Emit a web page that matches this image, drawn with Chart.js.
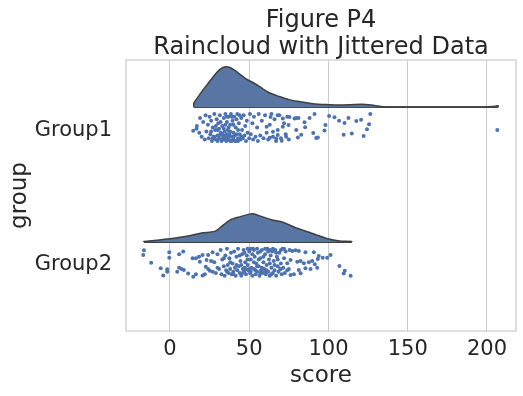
<!DOCTYPE html>
<html>
<head>
<meta charset="utf-8">
<script src="https://cdn.jsdelivr.net/npm/chart.js@4"></script>
<style>
  html, body { margin: 0; padding: 0; background: #fff; }
  #wrap { width: 523px; height: 396px; }
</style>
</head>
<body>
<div id="wrap"><canvas id="chart" width="523" height="396"></canvas></div>
<script>
const titleLines = ['Figure P4', 'Raincloud with Jittered Data'];
const groups = ['Group1', 'Group2'];
const xTicks = [0, 50, 100, 150, 200];
const cloudBase = 0.17; // clouds sit this far above the group line

// half-violin outlines: score, height above the baseline (y units)
const g1CloudScore = [15.1, 15.1, 18, 21, 25, 29, 32, 35, 37.5, 40, 43, 48, 52, 56.6, 62, 69, 75, 82, 88, 94, 100, 107, 114, 121, 127, 134, 145, 180, 200, 204, 207, 207];
const g1CloudHeight = [0, 0.03, 0.08, 0.13, 0.19, 0.25, 0.285, 0.30, 0.296, 0.28, 0.255, 0.21, 0.185, 0.153, 0.111, 0.079, 0.056, 0.041, 0.03, 0.022, 0.019, 0.017, 0.019, 0.022, 0.016, 0.004, 0.002, 0.002, 0.002, 0.006, 0.01, 0];
const g2CloudScore = [-16.4, -16.4, -8.4, 0, 10.5, 19.9, 28.3, 31.4, 37.7, 45, 50, 52.4, 55, 57.7, 64, 71.3, 79.7, 89, 99.6, 107, 114.7, 114.7];
const g2CloudHeight = [0, 0.004, 0.013, 0.024, 0.042, 0.067, 0.079, 0.104, 0.161, 0.19, 0.207, 0.21, 0.2, 0.19, 0.165, 0.146, 0.104, 0.067, 0.024, 0.007, 0.004, 0];

// rain: [score, jitter offset from the group line]
const g1Rain = [
  [14.7,0.005],[16.8,-0.01],[17,-0.03],[18.5,0.02],[19,-0.09],[20,0.05],[21,-0.06],[22,0.07],[22.5,-0.11],[23,0.01],
  [24,-0.04],[24.5,0.06],[25,-0.1],[25.5,0.03],[26,-0.07],[26.5,0.08],[27,-0.02],[27.5,0.05],[28,-0.12],[28.5,0.0],
  [29,0.07],[29.5,-0.08],[30,0.04],[30.5,-0.05],[31,0.06],[31.5,-0.11],[32,0.02],[32.5,0.08],[33,-0.03],[33.5,0.05],
  [34,-0.09],[34,0.07],[34.5,0.01],[35,-0.12],[35,0.04],[35.5,0.08],[36,-0.06],[36,0.06],[36.5,0.0],[37,-0.1],
  [37,0.07],[37.5,0.03],[38,-0.04],[38,0.08],[38.5,-0.12],[39,0.05],[39.5,-0.07],[40,0.02],[40,0.07],[40.5,-0.1],
  [41,0.04],[41.5,-0.02],[42,0.08],[42.5,-0.12],[43,0.06],[43.5,-0.05],[44,0.03],[44.5,0.07],[45,-0.09],[45.5,0.0],
  [46,0.06],[46.5,-0.11],[47,0.04],[47.5,-0.03],[48,0.08],[48.5,-0.07],[49,0.02],[50,0.06],[50.5,-0.12],[51,0.03],
  [52,-0.05],[52.5,0.07],[53,-0.1],[54,0.05],[55,-0.02],[55.5,0.08],[56,-0.12],[57,0.04],[58,-0.07],[59,0.06],
  [60,-0.11],[61,0.02],[62,0.07],[63,-0.04],[64,-0.12],[65,0.05],[66,-0.08],[67,0.08],[68,0.0],[69,-0.11],
  [70,0.06],[72,-0.05],[73,0.03],[74,-0.1],[75,0.07],
  [26,0.01],[28,0.05],[29,-0.03],[30,0.08],[31,-0.01],[32,-0.06],[33,0.03],[34,-0.01],[35,-0.04],[36,0.03],
  [37,-0.02],[38,0.01],[39,-0.1],[40,-0.04],[41,0.08],[42,-0.08],[43,0.0],[44,-0.11],[30,0.0],[33,0.07],
  [36,-0.1],[39,0.08],[42,0.03],[45,0.05],[27,0.06],[31,0.04],[34,0.05],[37,0.05],[40,0.05],[43,0.08],
  [61,-0.025],[63,0.057],[63.5,-0.098],[65,0.013],[67,0.062],[68,-0.111],[68,0.037],[70.5,0.079],[71.2,-0.086],[71.2,-0.025],
  [73.3,0.049],[74.8,-0.037],[75.4,-0.098],[78.6,-0.086],
  [79.7,-0.089],[81.1,-0.089],[84.9,-0.059],[88.1,-0.089],[91.2,-0.119],[85.3,-0.022],[98.1,-0.037],[100.4,-0.104],[103.8,-0.096],[106.7,-0.069],
  [110.1,-0.052],[112.6,-0.089],[117.6,-0.067],[120.6,-0.076],[126.4,-0.119],[125.6,-0.044],[124.3,-0.007],[122.2,0.044],[114.7,0.025],[109.6,0.035],
  [97.5,0.002],[90.4,0.022],[92.3,0.059],[93.3,0.054],[82.8,0.035],[80.7,0.054],[79.7,0.0],[206.5,0.0]
];
const g2Rain = [
  [-16.4,-0.109],[-16.8,-0.074],[-11.8,-0.017],[-5.8,0.024],[-4.2,0.079],[-1.7,0.032],[-1.7,0.05],[-0.4,-0.094],[-0.4,-0.054],[5.8,-0.079],
  [8.4,-0.099],[5.8,0.02],[7.4,0.03],[8.8,0.037],[4.6,0.05],[11.5,0.064],[14.7,0.087],[16.4,0.069],[14.3,-0.05],[16.4,-0.05],
  [18.4,-0.061],[20.6,-0.074],[18.9,-0.024],[23.1,-0.037],[24.1,-0.074],[26.9,-0.094],[22.6,0.013],[24.1,0.03],[25.2,0.044],[22,0.069],
  [20.6,0.079],
  [28,-0.02],[29,0.06],[30,-0.08],[31,0.03],[32,-0.11],[32.5,0.07],[33,-0.04],[34,0.01],[34.5,0.08],[35,-0.07],
  [35.5,0.04],[36,-0.12],[36.5,0.0],[37,0.06],[37.5,-0.05],[38,0.03],[38.5,-0.09],[39,0.07],[39.5,-0.01],[40,0.05],
  [40.5,-0.1],[41,0.02],[41.5,0.08],[42,-0.06],[42.5,0.04],[43,-0.12],[43.5,0.01],[44,0.06],[44.5,-0.03],[45,0.08],
  [45.5,-0.08],[46,0.03],[46.5,-0.11],[47,0.05],[47.5,-0.02],[48,0.07],[48.5,-0.07],[49,0.0],[49.5,0.04],[50,-0.1],
  [50.5,0.06],[51,-0.04],[51.5,0.02],[52,0.08],[52.5,-0.12],[53,0.03],[53.5,-0.06],[54,0.07],[54.5,-0.01],[55,0.05],
  [55.5,-0.09],[56,0.01],[56.5,0.08],[57,-0.05],[57.5,0.04],[58,-0.11],[58.5,0.06],[59,-0.02],[59.5,0.03],[60,-0.08],
  [60.5,0.07],[61,0.0],[61.5,-0.12],[62,0.05],[62.5,-0.04],[63,0.08],[63.5,-0.07],[64,0.02],[64.5,-0.1],[65,0.06],
  [65.5,-0.03],[66,0.04],[66.5,-0.11],[67,0.08],[67.5,-0.06],[68,0.01],[68.5,0.05],[69,-0.09],[69.5,0.03],[70,-0.01],
  [70.5,0.07],[71,-0.12],[71.5,0.02],[72,-0.05],[72.5,0.06],[73,-0.1],[74,0.04],[45,0.0],[47,0.02],[49,-0.04],
  [51,0.05],[53,-0.02],[55,0.01],[57,0.06],[59,-0.06],[61,0.04],[63,-0.01],[50,0.03],[52,-0.08],[54,0.04],
  [56,-0.04],[58,0.02],[60,0.05],[42,0.0],[44,-0.07],[46,0.06],[48,0.03],[64,0.07],[66,0.0],[68,-0.04],
  [70,0.03],[55,-0.12],[57,-0.1],[53,-0.11],[51,-0.12],[62,-0.1],[65,-0.12],[49,-0.12],[47,-0.09],[60,-0.12],
  [63,-0.11],[67,-0.09],[70,-0.11],[72,-0.12],[40,0.07],[38,-0.02],[36,0.05],[34,-0.05],[30,0.02],[27,0.05],
  [26,-0.03],
  [74,-0.013],[76.1,-0.037],[80.3,-0.024],[82.4,-0.03],[84.5,-0.013],[87.6,-0.02],[89.7,-0.03],[91.4,-0.005],[92.9,0.02],[88.7,0.03],
  [85.5,0.024],[81.3,0.037],[82.4,0.061],[78.2,0.069],[76.1,0.074],[75,0.03],
  [75.5,-0.111],[77.2,-0.104],[79.2,-0.109],[81.3,-0.104],[85.5,-0.094],[90.8,-0.094],[93.3,-0.044],[93.9,-0.067],[96.4,-0.054],[99.2,-0.054],
  [101.3,-0.074],[106.9,0.007],[110.3,0.044],[109.6,0.064],[114,0.081]
];

const textColor = '#262626';
const gridColor = '#cccccc';
const rainColor = '#4c72b0';
const cloudFill = 'rgb(88,117,164)';
const cloudEdge = '#3f3f3f';

Chart.defaults.font.family = '"DejaVu Sans", sans-serif';
Chart.defaults.color = textColor;

function cloudData(scores, heights, g) {
  return scores.map((x, i) => ({ x: x, y: g - cloudBase - heights[i] }));
}
function baseData(scores, g) {
  return [{ x: scores[0], y: g - cloudBase }, { x: scores[scores.length - 1], y: g - cloudBase }];
}
function rainData(pts, g) {
  return pts.map(p => ({ x: p[0], y: g + p[1] }));
}

const cloudStyle = {
  type: 'line', showLine: true, pointRadius: 0, borderColor: cloudEdge, borderWidth: 1.5,
  backgroundColor: cloudFill, tension: 0.3
};
const baseStyle = {
  type: 'line', showLine: true, pointRadius: 0, borderColor: cloudEdge, borderWidth: 1.8, fill: false, tension: 0
};
const rainStyle = {
  type: 'scatter', pointRadius: 2, pointBackgroundColor: rainColor, pointBorderWidth: 0, showLine: false
};

// frame round the plot area, drawn under the data like matplotlib spines
const framePlugin = {
  id: 'frame',
  beforeDatasetsDraw(chart) {
    const a = chart.chartArea, ctx = chart.ctx;
    ctx.save();
    ctx.strokeStyle = gridColor;
    ctx.lineWidth = 1.25;
    ctx.strokeRect(a.left, a.top, a.right - a.left, a.bottom - a.top);
    ctx.restore();
  }
};

// two-line title centred over the plot area
const titlePlugin = {
  id: 'plotTitle',
  afterDraw(chart) {
    const a = chart.chartArea, ctx = chart.ctx;
    const cx = (a.left + a.right) / 2;
    ctx.save();
    ctx.fillStyle = textColor;
    ctx.font = '24px "DejaVu Sans"';
    ctx.textAlign = 'center';
    ctx.textBaseline = 'alphabetic';
    ctx.fillText(titleLines[0], cx, 26.7);
    ctx.fillText(titleLines[1], cx, 54.3);
    ctx.restore();
  }
};

new Chart(document.getElementById('chart'), {
  type: 'scatter',
  data: {
    datasets: [
      Object.assign({ data: cloudData(g1CloudScore, g1CloudHeight, 0), fill: { value: -cloudBase } }, cloudStyle),
      Object.assign({ data: baseData(g1CloudScore, 0) }, baseStyle),
      Object.assign({ data: cloudData(g2CloudScore, g2CloudHeight, 1), fill: { value: 1 - cloudBase } }, cloudStyle),
      Object.assign({ data: baseData(g2CloudScore, 1) }, baseStyle),
      Object.assign({ data: rainData(g1Rain, 0) }, rainStyle),
      Object.assign({ data: rainData(g2Rain, 1) }, rainStyle)
    ]
  },
  options: {
    responsive: false,
    animation: false,
    events: [],
    layout: { padding: { top: 60, right: 7, left: 2, bottom: 0 } },
    plugins: {
      legend: { display: false },
      title: { display: false },
      tooltip: { enabled: false }
    },
    scales: {
      x: {
        type: 'linear',
        min: -27.7,
        max: 218.3,
        afterBuildTicks: s => { s.ticks = xTicks.map(v => ({ value: v })); },
        afterFit: s => { s.height = 65; },
        ticks: { font: { size: 21 }, color: textColor, padding: 6 },
        grid: { color: gridColor, lineWidth: 1, drawTicks: false },
        border: { display: false },
        title: { display: true, text: 'score', font: { size: 23 }, color: textColor, padding: { top: 0, bottom: 6 } }
      },
      y: {
        type: 'linear',
        reverse: true,
        min: -0.52,
        max: 1.49,
        afterBuildTicks: s => { s.ticks = groups.map((g, i) => ({ value: i })); },
        afterFit: s => { s.width = 124; },
        ticks: { font: { size: 21 }, color: textColor, padding: 14, callback: (v, i) => groups[i] },
        grid: { display: false, drawTicks: false },
        border: { display: false },
        title: { display: true, text: 'group', font: { size: 23 }, color: textColor, padding: 4 }
      }
    }
  },
  plugins: [framePlugin, titlePlugin]
});
</script>
</body>
</html>
